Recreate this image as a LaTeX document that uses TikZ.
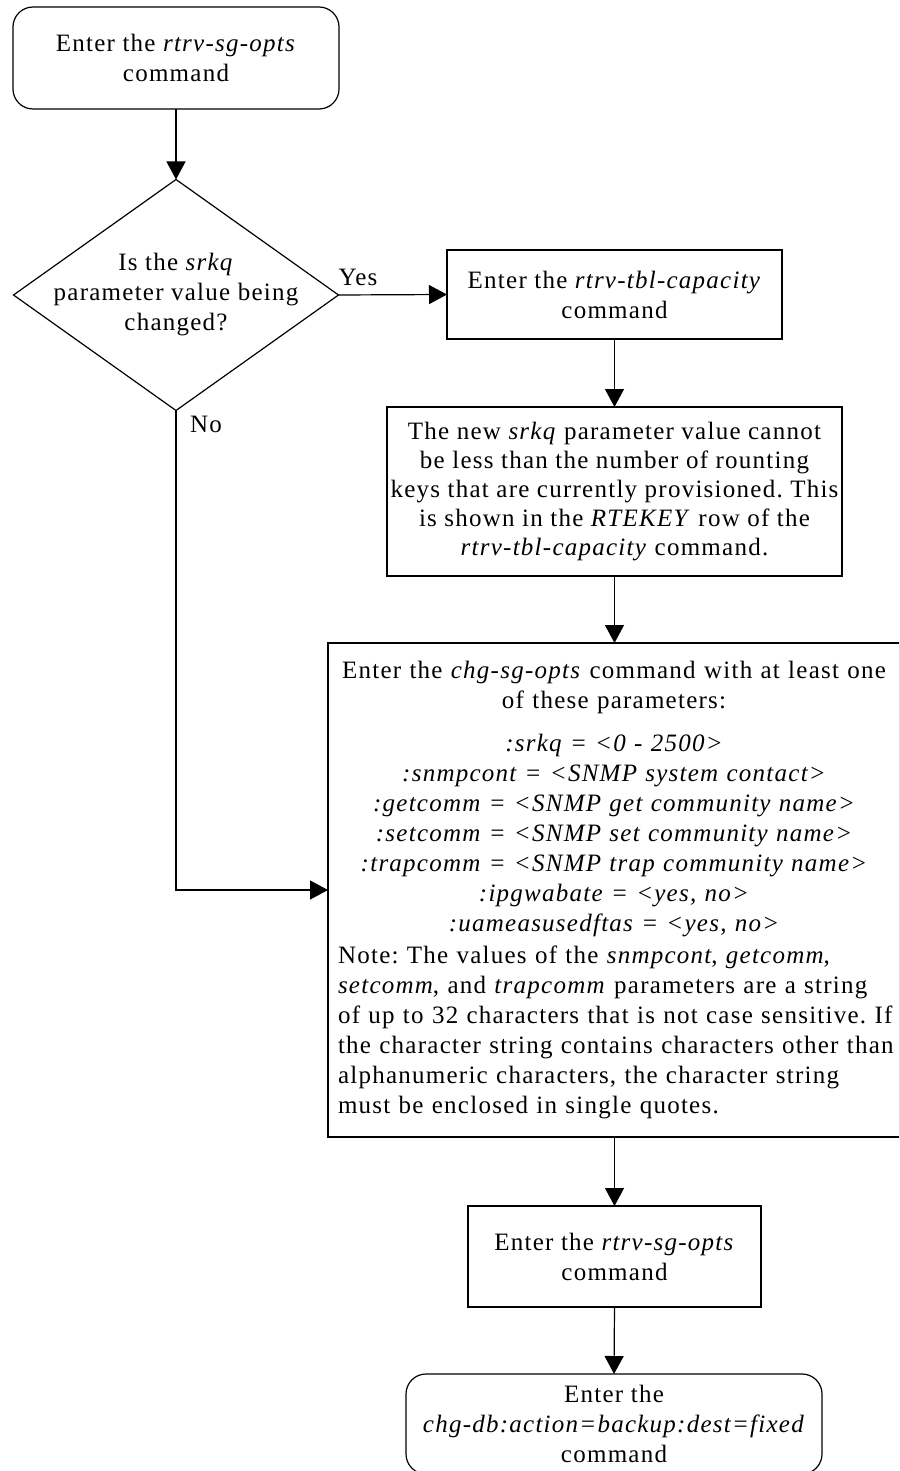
\documentclass[tikz,border=0pt]{standalone}
\usepackage{fontspec}
\setmainfont{Liberation Serif}[LetterSpace=5]
\usetikzlibrary{arrows.meta,shapes.geometric,calc}
\frenchspacing
\begin{document}
\begin{tikzpicture}[x=1pt,y=-1pt,
  every node/.style={font=\fontsize{25}{30}\selectfont, inner sep=0pt, outer sep=0pt},
  box/.style={draw, line width=1.2pt, align=center},
  rbox/.style={box, rounded corners=20pt},
  conn/.style={line width=1.2pt, -{Triangle[length=18pt,width=19pt]}},
  lbl/.style={anchor=base west}]
\useasboundingbox (0,0) rectangle (899,1471);
\clip (0,0) rectangle (899,1471);

\node[rbox, minimum width=326pt, minimum height=102pt] (start) at (176,58) {Enter the \textit{rtrv-sg-opts}\\ command};

\node[draw, line width=1.2pt, diamond, minimum width=325pt, minimum height=231pt] (dec) at (176,295) {};
\node[align=center] (dectext) at (dec.center) {Is the \textit{srkq}\\ parameter value being\\ changed?};

\node[box, minimum width=335pt, minimum height=89pt] (cap) at (614.5,294.5) {Enter the \textit{rtrv-tbl-capacity}\\ command};

\node[box, minimum width=455pt, minimum height=169pt, font=\fontsize{25}{29}\selectfont] (note) at (614.5,491.5) {The new \textit{srkq} parameter value cannot\\ be less than the number of rounting\\ keys that are currently provisioned. This\\ is shown in the \textit{RTEKEY} row of the\\ \textit{rtrv-tbl-capacity} command.};

\node[draw, line width=1.2pt, minimum width=572pt, minimum height=494pt, text width=552pt, align=left] (chg) at (614,890) {%
{\centering \mbox{Enter the \textit{chg-sg-opts} command with at least one}\\ of these parameters:\par}
\vspace{13pt}
{\centering\itshape :srkq = <0 - 2500>\\ :snmpcont = <SNMP system contact>\\ :getcomm = <SNMP get community name>\\ :setcomm = <SNMP set community name>\\ :trapcomm = <SNMP trap community name>\\ :ipgwabate = <yes, no>\\ :uameasusedftas = <yes, no>\par}
\vspace{2pt}
\mbox{Note: The values of the \textit{snmpcont}, \textit{getcomm},}\\
\mbox{\textit{setcomm}, and \textit{trapcomm} parameters are a string}\\
\mbox{of up to 32 characters that is not case sensitive. If}\\
\mbox{the character string contains characters other than}\\
\mbox{alphanumeric characters, the character string}\\
\mbox{must be enclosed in single quotes.}};

\node[box, minimum width=293pt, minimum height=101pt] (rtrv) at (614.5,1256.5) {Enter the \textit{rtrv-sg-opts}\\ command};

\node[rbox, minimum width=416pt, minimum height=100pt] (backup) at (614,1424) {Enter the\\ \textit{chg-db:action=backup:dest=fixed}\\ command};

\node[lbl] (yes) at ([yshift=10pt]dec.east) {Yes};
\node[lbl] (no) at ([xshift=14pt,yshift=-22pt]dec.south) {No};

\draw[conn] (start.south) -- (dec.north);
\draw[conn] (dec.east) -- (cap.west);
\draw[conn] (cap.south) -- (cap.south |- note.north);
\draw[conn] (note.south) -- (note.south |- chg.north);
\draw[conn] (dec.south) |- (chg.west);
\draw[conn] (chg.south -| rtrv.north) -- (rtrv.north);
\draw[conn] (rtrv.south) -- (backup.north);
\end{tikzpicture}
\end{document}
